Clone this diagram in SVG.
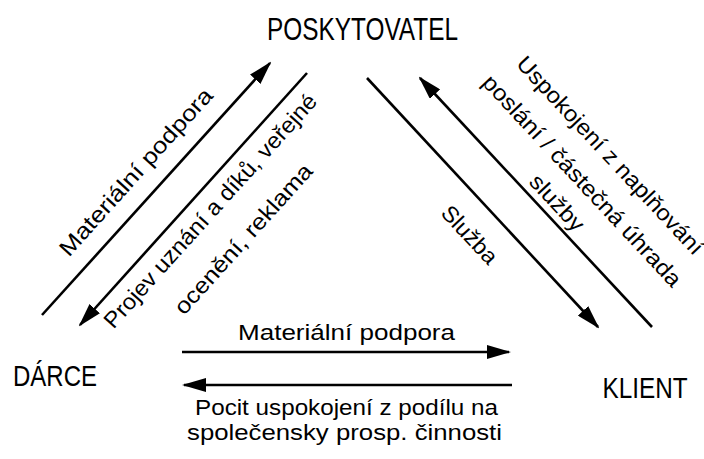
<svg xmlns="http://www.w3.org/2000/svg" width="704" height="459" viewBox="0 0 704 459">
<defs>
<style>
.node{font-family:"Liberation Sans",Arial,sans-serif;font-size:30px;fill:#000}
.lbl{font-family:"Liberation Sans",Arial,sans-serif;font-size:22.5px;fill:#000}
.c{fill:none;stroke:#000;stroke-width:2.6}
</style>
<marker id="ah" viewBox="0 0 24 14" refX="22" refY="7" markerWidth="24" markerHeight="14" markerUnits="userSpaceOnUse" orient="auto">
<path d="M0,0 L24,7 L0,14 z" fill="#000"/>
</marker>
</defs>
<rect width="704" height="459" fill="#fff"/>
<g id="node-poskytovatel"><text class="node" x="362.5" y="40" style="font-size:32px" text-anchor="middle" textLength="191" lengthAdjust="spacingAndGlyphs">POSKYTOVATEL</text></g>
<g id="node-darce"><text class="node" x="13" y="386" textLength="84" lengthAdjust="spacingAndGlyphs">DÁRCE</text></g>
<g id="node-klient"><text class="node" transform="translate(645,398) scale(0.81,1)" text-anchor="middle">KLIENT</text></g>
<g id="connectors">
<line class="c" x1="42" y1="315" x2="270" y2="63" marker-end="url(#ah)"/>
<line class="c" x1="307" y1="73" x2="80" y2="325" marker-end="url(#ah)"/>
<line class="c" x1="367" y1="78" x2="598" y2="327" marker-end="url(#ah)"/>
<line class="c" x1="652" y1="327" x2="420" y2="78" marker-end="url(#ah)"/>
<line class="c" x1="182" y1="352" x2="509" y2="352" marker-end="url(#ah)"/>
<line class="c" x1="512" y1="385" x2="184" y2="385" marker-end="url(#ah)"/>
</g>
<g id="labels">
<text class="lbl" transform="translate(141.5,177) rotate(-48)" text-anchor="middle" textLength="217" lengthAdjust="spacingAndGlyphs">Materiální podpora</text>
<text class="lbl" transform="translate(216,216) rotate(-48)" text-anchor="middle" textLength="306" lengthAdjust="spacingAndGlyphs">Projev uznání a díků, veřejné</text>
<text class="lbl" transform="translate(249,244) rotate(-48)" text-anchor="middle" textLength="194" lengthAdjust="spacingAndGlyphs">ocenění, reklama</text>
<text class="lbl" transform="translate(604.6,160.6) rotate(47)" text-anchor="middle" textLength="262" lengthAdjust="spacingAndGlyphs">Uspokojení z naplňování</text>
<text class="lbl" transform="translate(576.6,186) rotate(47)" text-anchor="middle" textLength="280" lengthAdjust="spacingAndGlyphs">poslání / částečná úhrada</text>
<text class="lbl" transform="translate(551.6,208) rotate(47)" text-anchor="middle" textLength="69" lengthAdjust="spacingAndGlyphs">služby</text>
<text class="lbl" transform="translate(464,240) rotate(47)" text-anchor="middle" textLength="71" lengthAdjust="spacingAndGlyphs">Služba</text>
<text class="lbl" x="346.5" y="340" text-anchor="middle" textLength="217" lengthAdjust="spacingAndGlyphs">Materiální podpora</text>
<text class="lbl" x="346.5" y="415" text-anchor="middle" textLength="303" lengthAdjust="spacingAndGlyphs">Pocit uspokojení z podílu na</text>
<text class="lbl" x="344.5" y="440" text-anchor="middle" textLength="315" lengthAdjust="spacingAndGlyphs">společensky prosp. činnosti</text>
</g>
</svg>
